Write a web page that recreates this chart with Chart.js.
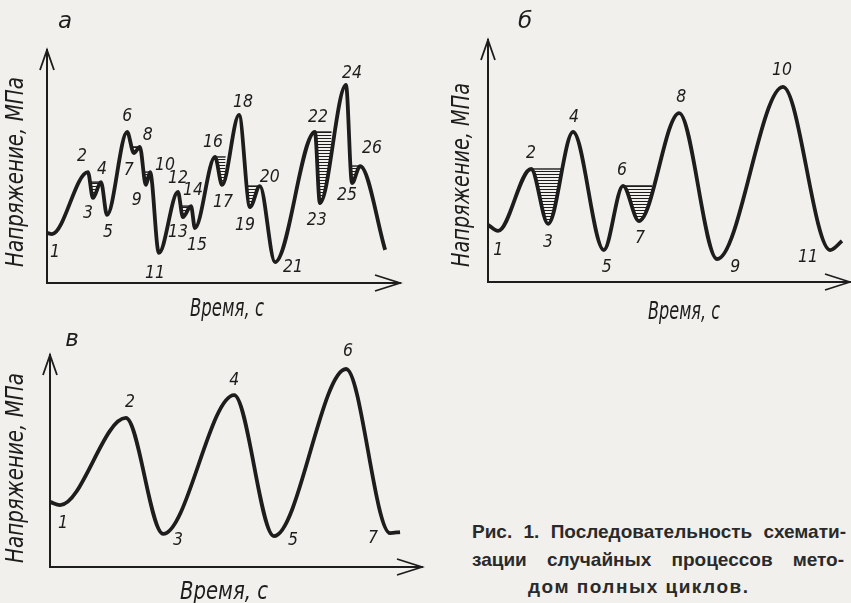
<!DOCTYPE html>
<html lang="ru">
<head>
<meta charset="utf-8">
<script src="https://cdn.jsdelivr.net/npm/chart.js@4/dist/chart.umd.min.js"></script>
<style>
  body { margin: 0; width: 851px; height: 603px; overflow: hidden; position: relative; background: #f1f0ec; }
  canvas { position: absolute; }
  .cap { position: absolute; font: bold 19px 'Liberation Sans', Arial, sans-serif; line-height: 23px; color: #2a2a2a; white-space: nowrap; }
  .just { text-align: justify; text-align-last: justify; white-space: normal; }
</style>
</head>
<body>
<canvas id="graphA" style="left:0;top:0" width="425" height="330"></canvas>
<canvas id="graphB" style="left:420px;top:0" width="431" height="330"></canvas>
<canvas id="graphC" style="left:0;top:330px" width="430" height="273"></canvas>
<div class="cap just" style="left:472px;top:520px;width:374px">Рис. 1. Последовательность схемати-</div>
<div class="cap just" style="left:472px;top:548px;width:372px">зации случайных процессов мето-</div>
<div class="cap" style="left:528px;top:575px;letter-spacing:1.5px">дом полных циклов.</div>
<script>
    // а — исходный процесс
    const timeA = [0, 1.4, 11.6, 13.0, 15.3, 17.0, 22.7, 24.6, 26.3, 28.0, 29.2, 31.7, 37.1, 38.5, 40.8, 41.9, 47.6, 49.6, 54.4, 57.5, 60.3, 64.6, 75.9, 77.3, 84.7, 86.4, 88.7, 95.8]
    const stressA = [21.5, 21.0, 47.6, 36.5, 43.3, 29.2, 64.8, 55.8, 58.4, 42.1, 47.6, 12.9, 39.1, 28.3, 33.0, 23.6, 54.1, 42.1, 72.1, 32.6, 41.6, 9.0, 64.8, 34.3, 85.0, 42.9, 50.2, 14.2]
    const namesA = ['', '1', '2', '3', '4', '5', '6', '7', '8', '9', '10', '11', '12', '13', '14', '15', '16', '17', '18', '19', '20', '21', '22', '23', '24', '25', '26', '']
    // выделенные (заштрихованные) полуциклы
    const hatchLevelA = [43.3, 58.4, 47.6, 33.0, 54.1, 41.6, 64.8, 50.2]
    const hatchFromA = [12.2, 23.6, 27.6, 37.8, 47.6, 56.2, 75.9, 85.7]
    const hatchToA = [15.3, 26.3, 29.2, 40.8, 50.6, 60.3, 80.6, 88.7]

    // б — после первого шага
    const timeB = [0, 2.8, 11.9, 16.6, 23.5, 32.0, 37.3, 41.7, 52.8, 63.3, 81.5, 94.5, 97.8]
    const stressB = [23.6, 21.1, 46.7, 24.0, 62.0, 13.2, 39.7, 25.2, 69.8, 9.5, 80.6, 13.2, 16.9]
    const namesB = ['', '1', '2', '3', '4', '5', '6', '7', '8', '9', '10', '11', '']
    const hatchLevelB = [46.7, 39.7]
    const hatchFromB = [11.9, 37.3]
    const hatchToB = [20.2, 45.3]

    // в — схематизированный процесс
    const timeC = [0, 2.7, 20.4, 30.4, 49.5, 60.2, 79.6, 91.4, 94.1]
    const stressC = [30.7, 29.2, 70.3, 15.6, 81.1, 14.6, 93.4, 16.0, 16.5]
    const namesC = ['', '1', '2', '3', '4', '5', '6', '7', '']

    const ink = '#1d1d1d'
    const handFont = '"DejaVu Sans", sans-serif'

    // сдвиг подписи номера от точки, px
    const shiftA = [[0, 0], [3, 18], [-6, -16], [-5, 15], [1, -13], [1, 17], [0, -16], [-5, 17], [8, -12], [-9, 15], [15, -7], [-4, 20], [0, -14], [-5, 15], [2, -16], [2, 17], [-2, -15], [1, 17], [4, -13], [-5, 18], [10, -9], [18, 5], [3, -15], [-3, 17], [6, -12], [-5, 12], [12, -18], [0, 0]]
    const shiftB = [[0, 0], [0, 19], [0, -16], [0, 18], [1, -15], [3, 17], [-1, -16], [1, 17], [2, -16], [18, 8], [-1, -17], [-22, 7], [0, 0]]
    const shiftC = [[0, 0], [3, 18], [4, -16], [15, 6], [0, -15], [19, 4], [2, -18], [-17, 5], [0, 0]]

    const hatchCanvas = document.createElement('canvas')
    hatchCanvas.width = 4
    hatchCanvas.height = 3
    const hctx = hatchCanvas.getContext('2d')
    hctx.fillStyle = ink
    hctx.fillRect(0, 0, 4, 1)
    const hatch = hctx.createPattern(hatchCanvas, 'repeat')

    const sketch = {
      id: 'sketch',
      afterDraw(chart, args, opts) {
        const { ctx, chartArea: area, scales: { x, y } } = chart
        ctx.save()
        ctx.strokeStyle = ink
        ctx.lineWidth = 1.8
        ctx.beginPath()
        ctx.moveTo(area.left - 7, area.top + 20)
        ctx.lineTo(area.left, area.top)
        ctx.lineTo(area.left + 7, area.top + 20)
        ctx.moveTo(area.right - 25, area.bottom - 8)
        ctx.lineTo(area.right, area.bottom)
        ctx.lineTo(area.right - 25, area.bottom + 8)
        ctx.stroke()

        ctx.fillStyle = ink
        ctx.textAlign = 'center'
        ctx.textBaseline = 'middle'
        ctx.font = 'italic 18px ' + handFont
        opts.names.forEach((name, i) => {
          if (!name) return
          const [dx, dy] = opts.shift[i]
          ctx.fillText(name, x.getPixelForValue(opts.time[i]) + dx, y.getPixelForValue(opts.stress[i]) + dy, name.length * 10)
        })

        ctx.font = 'italic 23px ' + handFont
        ctx.fillText(opts.letter.text, opts.letter.x, opts.letter.y)

        ctx.font = 'italic 24px ' + handFont
        ctx.fillText('Время, с', opts.xTitle.x, opts.xTitle.y, opts.xTitle.w)
        ctx.translate(opts.yTitle.x, opts.yTitle.y)
        ctx.rotate(-Math.PI / 2)
        ctx.fillText('Напряжение, МПа', 0, 0, opts.yTitle.w)
        ctx.restore()
      }
    }

    const makeConfig = (time, stress, names, shift, hatchLevel, hatchFrom, hatchTo, frame) => {
      const datasets = [{
        data: time.map((t, i) => ({ x: t, y: stress[i] })),
        borderColor: ink,
        borderWidth: 3.8,
        pointRadius: 0,
        cubicInterpolationMode: 'monotone',
        fill: false
      }]
      hatchLevel.forEach((level, i) => {
        datasets.push({
          data: [{ x: hatchFrom[i], y: level }, { x: hatchTo[i], y: level }],
          borderColor: ink,
          borderWidth: 1.4,
          pointRadius: 0,
          fill: { target: 0, above: hatch, below: 'rgba(0,0,0,0)' }
        })
      })
      return {
        type: 'line',
        data: { datasets },
        options: {
          responsive: false,
          animation: false,
          layout: { padding: frame.padding },
          scales: {
            x: {
              type: 'linear', min: 0, max: 100,
              grid: { display: false, drawTicks: false },
              ticks: { display: false },
              border: { display: true, color: ink, width: 2 },
              afterFit: s => { s.height = frame.bottom }
            },
            y: {
              min: 0, max: 100,
              grid: { display: false, drawTicks: false },
              ticks: { display: false },
              border: { display: true, color: ink, width: 2 },
              afterFit: s => { s.width = frame.left }
            }
          },
          plugins: {
            legend: { display: false },
            tooltip: { enabled: false },
            sketch: {
              time, stress, names, shift,
              letter: frame.letter, xTitle: frame.xTitle, yTitle: frame.yTitle
            }
          }
        },
        plugins: [sketch]
      }
    }

    let chartA = new Chart(document.getElementById('graphA'), makeConfig(timeA, stressA, namesA, shiftA, hatchLevelA, hatchFromA, hatchToA, {
      padding: { left: 0, top: 50, right: 25, bottom: 0 }, left: 47, bottom: 47,
      letter: { text: 'а', x: 65, y: 22 },
      xTitle: { x: 227, y: 310, w: 74 },
      yTitle: { x: 17, y: 172, w: 190 }
    }))

    let chartB = new Chart(document.getElementById('graphB'), makeConfig(timeB, stressB, namesB, shiftB, hatchLevelB, hatchFromB, hatchToB, {
      padding: { left: 0, top: 40, right: 1, bottom: 0 }, left: 68, bottom: 48,
      letter: { text: 'б', x: 105, y: 22 },
      xTitle: { x: 264, y: 313, w: 72 },
      yTitle: { x: 43, y: 175, w: 184 }
    }))

    let chartC = new Chart(document.getElementById('graphC'), makeConfig(timeC, stressC, namesC, shiftC, [], [], [], {
      padding: { left: 0, top: 25, right: 8, bottom: 0 }, left: 50, bottom: 36,
      letter: { text: 'в', x: 72, y: 10 },
      xTitle: { x: 224, y: 263, w: 88 },
      yTitle: { x: 17, y: 138, w: 190 }
    }))
</script>
</body>
</html>
